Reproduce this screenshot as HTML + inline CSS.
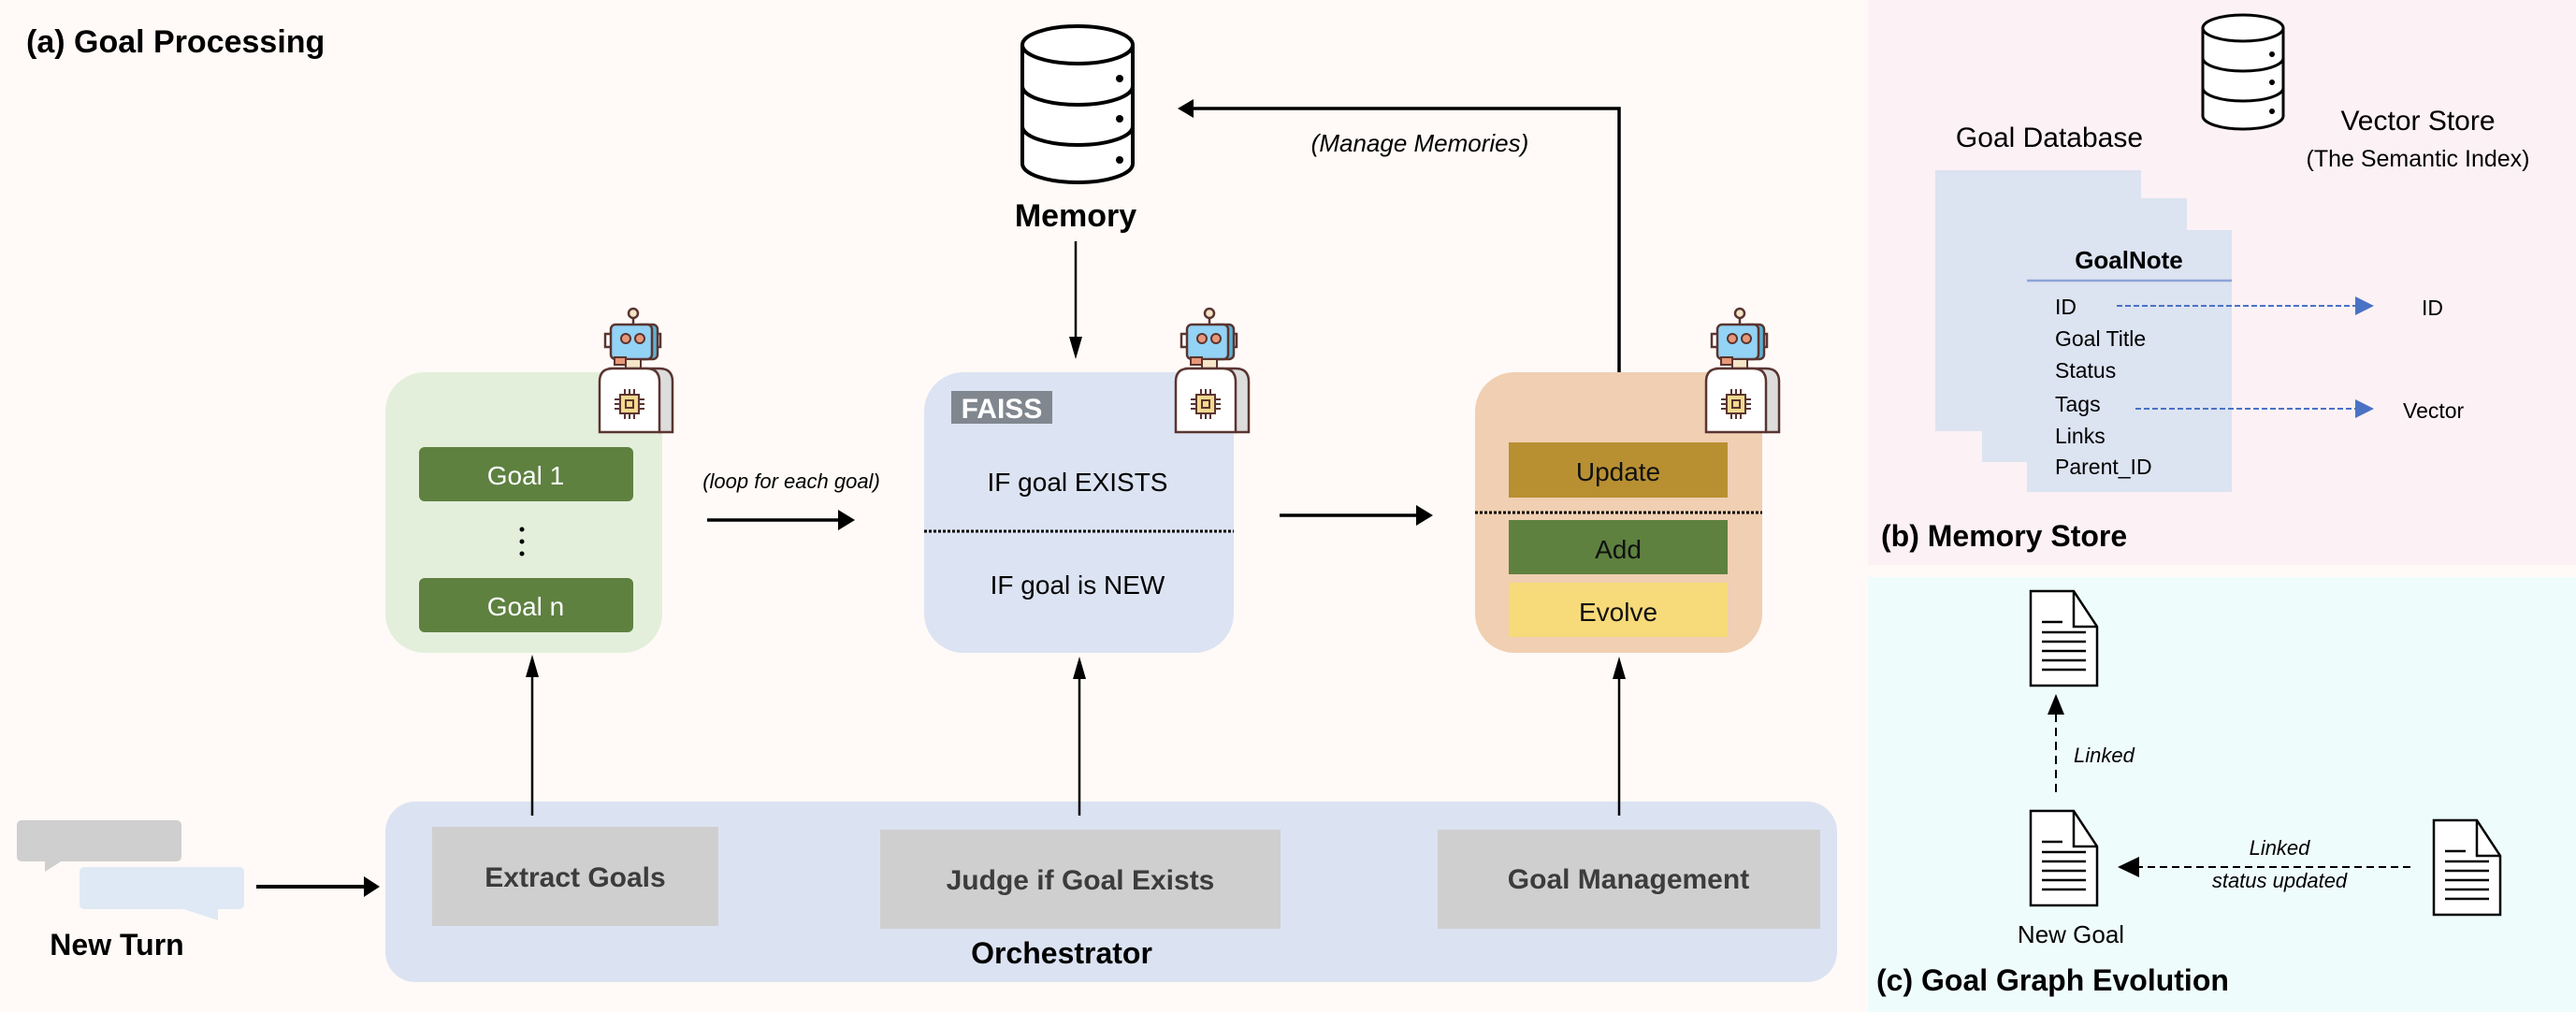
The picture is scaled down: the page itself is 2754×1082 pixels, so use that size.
<!DOCTYPE html>
<html><head><meta charset="utf-8"><style>
html,body{margin:0;padding:0;background:#fffaf7;}
svg{display:block;}
text{font-family:"Liberation Sans",sans-serif;}
</style></head><body>
<svg width="2754" height="1082" viewBox="0 0 2754 1082" xmlns="http://www.w3.org/2000/svg">
<defs>
<g id="robot">
  <line x1="36" y1="12" x2="36" y2="20" stroke="#5a3530" stroke-width="2.5"/>
  <circle cx="36" cy="7" r="5" fill="#f5e6c8" stroke="#5a3530" stroke-width="2.5"/>
  <rect x="6" y="29" width="8" height="14" fill="#fff" stroke="#5a3530" stroke-width="2.5"/>
  <rect x="56" y="29" width="9" height="14" fill="#fff" stroke="#5a3530" stroke-width="2.5"/>
  <rect x="38" y="19" width="24" height="37" rx="5" fill="#5fb2d4" stroke="#5a3530" stroke-width="2.5"/>
  <rect x="12" y="19" width="44" height="37" rx="5" fill="#93d3f5" stroke="#5a3530" stroke-width="2.5"/>
  <circle cx="28" cy="34" r="5" fill="#e8987a" stroke="#5a3530" stroke-width="2"/>
  <circle cx="43" cy="34" r="5" fill="#e8987a" stroke="#5a3530" stroke-width="2"/>
  <rect x="28" y="56" width="16" height="12" fill="#f5e6c8" stroke="#5a3530" stroke-width="2"/>
  <rect x="16" y="54" width="12" height="8" fill="#e8987a" stroke="#5a3530" stroke-width="2"/>
  <path d="M12,66 Q12,66 64,66 Q78,66 78,80 L78,134 L64,134 Z" fill="#ddd" stroke="#5a3530" stroke-width="2.5"/>
  <path d="M0,80 Q0,66 14,66 L50,66 Q64,66 64,80 L64,134 L0,134 Z" fill="#fff" stroke="#5a3530" stroke-width="2.5"/>
  <g stroke="#5a3530" stroke-width="2">
    <line x1="27" y1="88" x2="27" y2="120"/><line x1="32" y1="88" x2="32" y2="120"/><line x1="37" y1="88" x2="37" y2="120"/>
    <line x1="16" y1="99" x2="48" y2="99"/><line x1="16" y1="104" x2="48" y2="104"/><line x1="16" y1="109" x2="48" y2="109"/>
  </g>
  <rect x="22" y="94" width="20" height="20" fill="#f5d98f" stroke="#5a3530" stroke-width="2"/>
  <rect x="28" y="100" width="8" height="8" fill="none" stroke="#5a3530" stroke-width="2"/>
</g>
<g id="doc">
  <path d="M0,0 L46,0 L71,38 L71,101 L0,101 Z" fill="#fff" stroke="#000" stroke-width="2.5"/>
  <path d="M46,0 L46,38 L71,38" fill="none" stroke="#000" stroke-width="2.5"/>
  <g stroke="#000" stroke-width="2.5">
    <line x1="12" y1="33" x2="34" y2="33"/><line x1="12" y1="44" x2="59" y2="44"/><line x1="12" y1="54" x2="59" y2="54"/>
    <line x1="12" y1="64" x2="59" y2="64"/><line x1="12" y1="74" x2="59" y2="74"/><line x1="12" y1="84" x2="59" y2="84"/>
  </g>
</g>
</defs>

<rect x="0" y="0" width="2754" height="1082" fill="#fffaf7"/>
<rect x="1997" y="0" width="757" height="604" fill="#fcf1f5"/>
<rect x="1997" y="617" width="757" height="465" fill="#effcfc"/>

<text x="28" y="56" font-size="34" font-weight="bold">(a) Goal Processing</text>

<g fill="#fff" stroke="#000" stroke-width="4">
  <path d="M1093,48 L1093,175 A59,20 0 0 0 1211,175 L1211,48"/>
  <ellipse cx="1152" cy="48" rx="59" ry="20"/>
  <path d="M1093,92 A59,20 0 0 0 1211,92" fill="none"/>
  <path d="M1093,135 A59,20 0 0 0 1211,135" fill="none"/>
</g>
<circle cx="1197" cy="84" r="4"/><circle cx="1197" cy="127" r="4"/><circle cx="1197" cy="171" r="4"/>
<text x="1150" y="242" font-size="34" font-weight="bold" text-anchor="middle">Memory</text>
<line x1="1150" y1="258" x2="1150" y2="365" stroke="#000" stroke-width="2.5"/>
<path d="M1150,384 L1143,360 L1157,360 Z"/>

<polyline points="1731,398 1731,116 1272,116" fill="none" stroke="#000" stroke-width="3.5"/>
<path d="M1259,116 L1276,106 L1276,126 Z" fill="#000"/>
<text x="1518" y="162" font-size="26" font-style="italic" text-anchor="middle">(Manage Memories)</text>

<rect x="412" y="398" width="296" height="300" rx="42" fill="#e3efdb"/>
<rect x="448" y="478" width="229" height="58" rx="6" fill="#5e8140"/>
<text x="562" y="518" font-size="28" fill="#fff" text-anchor="middle">Goal 1</text>
<circle cx="558" cy="566" r="2.5"/><circle cx="558" cy="579" r="2.5"/><circle cx="558" cy="592" r="2.5"/>
<rect x="448" y="618" width="229" height="58" rx="6" fill="#5e8140"/>
<text x="562" y="658" font-size="28" fill="#fff" text-anchor="middle">Goal n</text>
<use href="#robot" x="641" y="328"/>

<text x="846" y="522" font-size="22" font-style="italic" text-anchor="middle">(loop for each goal)</text>
<line x1="756" y1="556" x2="900" y2="556" stroke="#000" stroke-width="3.5"/>
<path d="M914,556 L896,545 L896,567 Z" fill="#000"/>

<rect x="988" y="398" width="331" height="300" rx="42" fill="#dce3f2"/>
<rect x="1017" y="418" width="108" height="35" fill="#80878f"/>
<text x="1071" y="447" font-size="30" font-weight="bold" fill="#fff" text-anchor="middle">FAISS</text>
<text x="1152" y="525" font-size="28" text-anchor="middle">IF goal EXISTS</text>
<line x1="988" y1="568" x2="1319" y2="568" stroke="#000" stroke-width="3" stroke-dasharray="3,2"/>
<text x="1152" y="635" font-size="28" text-anchor="middle">IF goal is NEW</text>
<use href="#robot" x="1257" y="328"/>

<line x1="1368" y1="551" x2="1518" y2="551" stroke="#000" stroke-width="3.5"/>
<path d="M1532,551 L1514,540 L1514,562 Z" fill="#000"/>

<rect x="1577" y="398" width="307" height="300" rx="42" fill="#f0cfb2"/>
<rect x="1613" y="473" width="234" height="59" fill="#b89032"/>
<text x="1730" y="514" font-size="28" text-anchor="middle" fill="#111">Update</text>
<line x1="1577" y1="548" x2="1884" y2="548" stroke="#000" stroke-width="3" stroke-dasharray="3,2"/>
<rect x="1613" y="556" width="234" height="58" fill="#5e8140"/>
<text x="1730" y="597" font-size="28" text-anchor="middle" fill="#111">Add</text>
<rect x="1613" y="623" width="234" height="58" fill="#f7da79"/>
<text x="1730" y="664" font-size="28" text-anchor="middle" fill="#111">Evolve</text>
<use href="#robot" x="1824" y="328"/>

<rect x="412" y="857" width="1552" height="193" rx="32" fill="#dbe3f2"/>
<rect x="462" y="884" width="306" height="106" fill="#d0cfcf"/>
<text x="615" y="948" font-size="30" font-weight="bold" fill="#3c3c3c" text-anchor="middle">Extract Goals</text>
<rect x="941" y="887" width="428" height="106" fill="#d0cfcf"/>
<text x="1155" y="951" font-size="30" font-weight="bold" fill="#3c3c3c" text-anchor="middle">Judge if Goal Exists</text>
<rect x="1537" y="887" width="409" height="106" fill="#d0cfcf"/>
<text x="1741" y="950" font-size="30" font-weight="bold" fill="#3c3c3c" text-anchor="middle">Goal Management</text>
<text x="1135" y="1030" font-size="32" font-weight="bold" text-anchor="middle">Orchestrator</text>

<g stroke="#000" stroke-width="2.5">
<line x1="569" y1="872" x2="569" y2="720"/>
<line x1="1154" y1="872" x2="1154" y2="720"/>
<line x1="1731" y1="872" x2="1731" y2="720"/>
</g>
<path d="M569,700 L562,724 L576,724 Z"/><path d="M1154,702 L1147,726 L1161,726 Z"/><path d="M1731,702 L1724,726 L1738,726 Z"/>

<rect x="18" y="877" width="176" height="44" rx="5" fill="#d0cfcf"/>
<path d="M48,918 L48,932 L70,918 Z" fill="#d0cfcf"/>
<rect x="85" y="927" width="176" height="45" rx="5" fill="#dfe9f5"/>
<path d="M190,970 L233,970 L233,984 Z" fill="#dfe9f5"/>
<line x1="274" y1="948" x2="392" y2="948" stroke="#000" stroke-width="4"/>
<path d="M406,948 L389,937 L389,959 Z"/>
<text x="125" y="1021" font-size="32" font-weight="bold" text-anchor="middle">New Turn</text>

<g fill="#fff" stroke="#000" stroke-width="3">
  <path d="M2355,30 L2355,124 A43,14 0 0 0 2441,124 L2441,30"/>
  <ellipse cx="2398" cy="30" rx="43" ry="14"/>
  <path d="M2355,62 A43,14 0 0 0 2441,62" fill="none"/>
  <path d="M2355,94 A43,14 0 0 0 2441,94" fill="none"/>
</g>
<circle cx="2429" cy="58" r="3"/><circle cx="2429" cy="88" r="3"/><circle cx="2429" cy="119" r="3"/>
<text x="2191" y="157" font-size="30" text-anchor="middle">Goal Database</text>
<text x="2585" y="139" font-size="30" text-anchor="middle">Vector Store</text>
<text x="2585" y="178" font-size="25" text-anchor="middle">(The Semantic Index)</text>
<rect x="2069" y="182" width="220" height="279" fill="#dce3f1"/>
<rect x="2119" y="212" width="219" height="282" fill="#dce3f1"/>
<rect x="2167" y="246" width="219" height="280" fill="#dce3f1"/>
<text x="2276" y="287" font-size="26" font-weight="bold" text-anchor="middle">GoalNote</text>
<line x1="2167" y1="300" x2="2386" y2="300" stroke="#8ea4d8" stroke-width="2.5"/>
<g font-size="23">
<text x="2197" y="336">ID</text>
<text x="2197" y="370">Goal Title</text>
<text x="2197" y="404">Status</text>
<text x="2197" y="440">Tags</text>
<text x="2197" y="474">Links</text>
<text x="2197" y="507">Parent_ID</text>
<text x="2589" y="337">ID</text>
<text x="2569" y="447">Vector</text>
</g>
<g stroke="#4a72c4" stroke-width="2" stroke-dasharray="6,3">
<line x1="2263" y1="327" x2="2520" y2="327"/>
<line x1="2283" y1="437" x2="2520" y2="437"/>
</g>
<path d="M2538,327 L2518,317 L2518,337 Z" fill="#4a72c4"/>
<path d="M2538,437 L2518,427 L2518,447 Z" fill="#4a72c4"/>
<text x="2011" y="584" font-size="32" font-weight="bold">(b) Memory Store</text>

<use href="#doc" x="2171" y="632"/>
<use href="#doc" x="2171" y="867"/>
<use href="#doc" x="2602" y="877"/>
<line x1="2198" y1="847" x2="2198" y2="760" stroke="#000" stroke-width="2" stroke-dasharray="9,6"/>
<path d="M2198,742 L2189,764 L2207,764 Z"/>
<text x="2217" y="815" font-size="22" font-style="italic">Linked</text>
<line x1="2577" y1="927" x2="2280" y2="927" stroke="#000" stroke-width="2" stroke-dasharray="8,5"/>
<path d="M2264,927 L2287,916 L2287,938 Z"/>
<text x="2437" y="914" font-size="22" font-style="italic" text-anchor="middle">Linked</text>
<text x="2437" y="949" font-size="22" font-style="italic" text-anchor="middle">status updated</text>
<text x="2214" y="1008" font-size="26" text-anchor="middle">New Goal</text>
<text x="2006" y="1059" font-size="32" font-weight="bold">(c) Goal Graph Evolution</text>
</svg>
</body></html>
